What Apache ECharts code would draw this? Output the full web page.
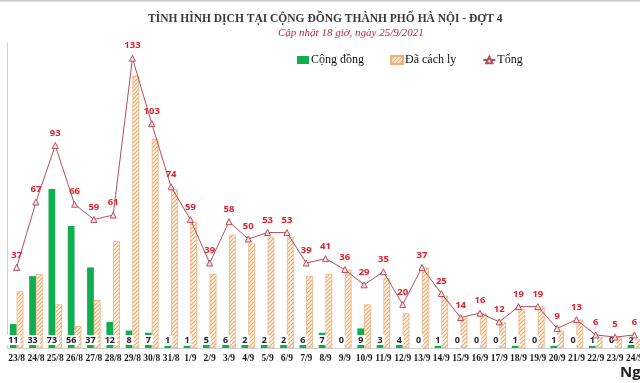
<!DOCTYPE html>
<html>
<head>
<meta charset="utf-8">
<script src="https://cdn.jsdelivr.net/npm/echarts@6/dist/echarts.min.js"></script>
<style>
html,body{margin:0;padding:0;background:#fff;overflow:hidden;}
#chart{width:646px;height:383px;}
</style>
</head>
<body>
<div id="chart"></div>
<script>
const categories = ['23/8','24/8','25/8','26/8','27/8','28/8','29/8','30/8','31/8','1/9','2/9','3/9','4/9','5/9','6/9','7/9','8/9','9/9','10/9','11/9','12/9','13/9','14/9','15/9','16/9','17/9','18/9','19/9','20/9','21/9','22/9','23/9','24/9'];
const congDong = [11,33,73,56,37,12,8,7,1,1,5,6,2,2,2,6,7,0,9,3,4,0,1,0,0,0,1,0,1,0,1,0,2];
const cachLy = [26,34,20,10,22,49,125,96,73,58,34,52,48,51,51,33,34,36,20,32,16,37,24,14,16,12,18,19,8,13,5,5,4];
const tong = [37,67,93,66,59,61,133,103,74,59,39,58,50,53,53,39,41,36,29,35,20,37,25,14,16,12,19,19,9,13,6,5,6];

const titleText = 'TÌNH HÌNH DỊCH TẠI CỘNG ĐỒNG THÀNH PHỐ HÀ NỘI - ĐỢT 4';
const subText = 'Cập nhật 18 giờ, ngày 25/9/2021';

function makePattern(){
  const c = document.createElement('canvas');
  c.width = 4; c.height = 4;
  const ctx = c.getContext('2d');
  ctx.fillStyle = '#fffaf2';
  ctx.fillRect(0,0,4,4);
  ctx.strokeStyle = '#f2a45c';
  ctx.lineWidth = 1.1;
  ctx.beginPath();
  ctx.moveTo(-1,5); ctx.lineTo(5,-1);
  ctx.moveTo(-1,1); ctx.lineTo(1,-1);
  ctx.moveTo(3,5); ctx.lineTo(5,3);
  ctx.stroke();
  return c;
}
const pat = {image: makePattern(), repeat: 'repeat'};

const chart = echarts.init(document.getElementById('chart'), null, {renderer:'canvas'});
chart.setOption({
  animation: false,
  backgroundColor: '#fff',
  title: [
    {
      text: titleText,
      left: 143,
      top: 8,
      textStyle: {fontFamily: 'Liberation Serif', fontWeight: 'bold', fontSize: 11.5, color: '#3a3a3a'}
    },
    {
      text: subText,
      left: 273,
      top: 23,
      textStyle: {fontFamily: 'Liberation Serif', fontStyle: 'italic', fontWeight: 'normal', fontSize: 11, color: '#c8262e'}
    }
  ],
  legend: {
    left: 292, top: 49,
    itemGap: 26,
    itemWidth: 12, itemHeight: 8,
    textStyle: {fontFamily: 'Liberation Serif', fontSize: 12, color: '#111', padding: [0,0,0,-3]},
    data: [
      {name: 'Cộng đồng', icon: 'rect'},
      {name: 'Đã cách ly', icon: 'rect'},
      {name: 'Tổng'}
    ]
  },
  grid: {left: 7, width: 637, top: 43, bottom: 35, containLabel: false},
  xAxis: {
    type: 'category',
    data: categories,
    axisLine: {show: true, lineStyle: {color: '#d0d0d0'}},
    axisTick: {show: false},
    axisLabel: {interval: 0, fontFamily: 'Liberation Serif', fontWeight: 'bold', fontSize: 9.5, color: '#1a1a1a', margin: 6}
  },
  yAxis: {
    type: 'value', min: 0, max: 140,
    axisLine: {show: true, lineStyle: {color: '#d0d0d0'}},
    axisLabel: {show: false}, axisTick: {show: false}, splitLine: {show: false}
  },
  series: [
    {
      name: 'Cộng đồng', type: 'bar', data: congDong,
      barGap: '0%', barCategoryGap: '30%',
      itemStyle: {color: '#0fae50'},
      label: {
        show: true, position: 'insideBottom', distance: 3,
        backgroundColor: '#fff', padding: [1,2,0,2],
        fontFamily: 'Open Sans', fontWeight: 'bold', fontSize: 9, color: '#222'
      },
      z: 2
    },
    {
      name: 'Đã cách ly', type: 'bar', data: cachLy,
      itemStyle: {color: pat, borderColor: '#f3b07a', borderWidth: 0.8},
      z: 2
    },
    {
      name: 'Tổng', type: 'line', data: tong,
      symbol: 'triangle', symbolSize: 6,
      lineStyle: {color: '#b5505c', width: 1},
      itemStyle: {color: '#fbe0e3', borderColor: '#b5505c', borderWidth: 1},
      label: {show: true, position: 'top', distance: 4, fontFamily: 'Open Sans', fontWeight: 'bold', fontSize: 9.5, color: '#e0202a'},
      z: 5
    }
  ],
  graphic: [
    {type: 'rect', shape: {x: 0, y: 0, width: 646, height: 1.5}, style: {fill: '#c8c8c8'}},
    {type: 'text', left: 620, top: 365, style: {text: 'Ngày', font: 'bold 15px "Open Sans"', fill: '#222'}}
  ]
});
</script>
</body>
</html>
